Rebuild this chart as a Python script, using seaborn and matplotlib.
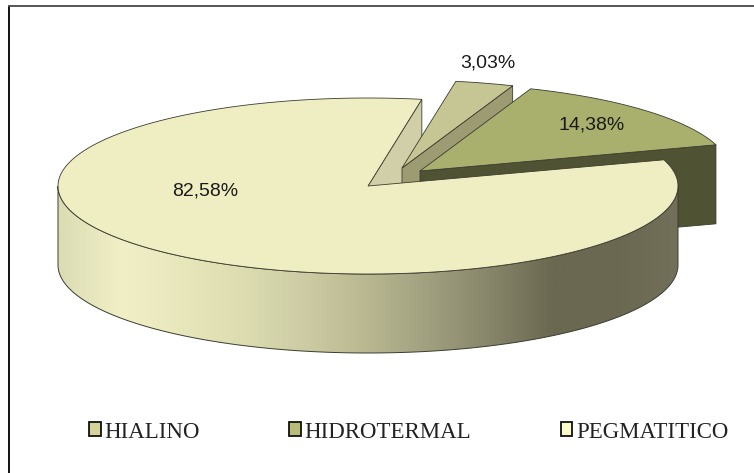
import numpy as np
import matplotlib
matplotlib.use("Agg")
import matplotlib.pyplot as plt
from matplotlib.path import Path
from matplotlib.patches import Polygon, PathPatch, Patch
import seaborn as sns

categories = ["HIALINO", "HIDROTERMAL", "PEGMATITICO"]
shares = [3.03, 14.38, 82.58]
labels = ["3,03%", "14,38%", "82,58%"]
top_colors = ["#c6c694", "#a9b06e", "#efeec2"]
wall_colors = ["#9c9b72", "#4f5233", "#d0cfa8"]
swatch_colors = ["#d3d39a", "#b7bd78", "#fbfbc8"]
explode = [(34, -18), (52, -15), (0, 0)]
label_pos = [(488, 63), (592, 125), (205, 191)]
grad_stops = ["#dcdcb4", "#f0efc6", "#e8e7bc", "#dcdcb0", "#cccba4", "#b8b790",
              "#a0a080", "#868469", "#6a6850", "#6a6850", "#72705a"]

CX, CY, RX, RY, DEPTH = 368, 186, 310, 88, 79
START = 80.0
EDGE = "#3c3c30"

sns.set_theme(style="white")
fig = plt.figure(figsize=(7.54, 4.73), dpi=100, facecolor="white")
ax = fig.add_axes([0, 0, 1, 1])
ax.axis("off")


def pt(theta, off=(0, 0), dz=0):
    t = np.radians(theta)
    return CX + off[0] + RX * np.cos(t), CY + off[1] - RY * np.sin(t) + dz


def sector(t0, t1, off):
    th = np.linspace(t0, t1, 200)
    xy = [pt(t, off) for t in th]
    return [(CX + off[0], CY + off[1])] + xy


# angular extents running clockwise from the start angle
fr = np.array(shares) / sum(shares) * 360
hi = (START - fr[0], START)
hd = (START - fr[0] - fr[1], START - fr[0])
pg = (START, START + fr[2])
spans = [hi, hd, pg]

# inner wall of the big slice, seen through the gap
off = explode[2]
a = (CX, CY)
b = pt(pg[0], off)
ax.add_patch(Polygon([a, b, (b[0], b[1] + DEPTH), (a[0], a[1] + DEPTH)],
                     fc=wall_colors[2], ec=EDGE, lw=0.6, zorder=1))

# exploded small slices: front radial wall, then top face
for i in (0, 1):
    off = explode[i]
    a = (CX + off[0], CY + off[1])
    b = pt(spans[i][0], off)
    ax.add_patch(Polygon([a, b, (b[0], b[1] + DEPTH), (a[0], a[1] + DEPTH)],
                         fc=wall_colors[i], ec=EDGE, lw=0.6, zorder=2 + i))
    ax.add_patch(Polygon(sector(*spans[i], off), fc=top_colors[i], ec=EDGE, lw=0.6, zorder=2 + i))

# outer wall of the big slice with horizontal gradient
th = np.linspace(180, 360, 300)
top = [pt(t) for t in th]
bot = [pt(t, dz=DEPTH) for t in th[::-1]]
verts = top + bot + [top[0]]
codes = [Path.MOVETO] + [Path.LINETO] * (len(verts) - 2) + [Path.CLOSEPOLY]
wall = PathPatch(Path(verts, codes), fc="none", ec=EDGE, lw=0.7, zorder=6)
ax.add_patch(wall)
ramp = np.array(sns.blend_palette(grad_stops, n_colors=512))[None, :, :]
im = ax.imshow(ramp, extent=(CX - RX, CX + RX, CY + RY + DEPTH, CY - RY), aspect="auto", zorder=5)
im.set_clip_path(wall)

# big slice top
ax.add_patch(Polygon(sector(*pg, explode[2]), fc=top_colors[2], ec=EDGE, lw=0.6, zorder=7))

for lab, (x, y) in zip(labels, label_pos):
    ax.text(x, y, lab, ha="center", va="center", fontsize=14, color="#1a1a1a",
            family="Liberation Sans", zorder=10)

# frame lines (left and top only)
ax.plot([9, 9], [473, 6], color="#111111", lw=1.4, zorder=0)
ax.plot([9, 754], [6, 6], color="#555555", lw=1.4, zorder=0)

ax.set_xlim(0, 754)
ax.set_ylim(473, 0)

handles = [Patch(fc=c, ec="#111111", lw=1.3) for c in swatch_colors]
ax.legend(handles, categories, ncol=3, frameon=False, loc="center left",
          bbox_to_anchor=(89, 432), bbox_transform=ax.transData,
          prop={"family": "Liberation Serif", "size": 16.5},
          handlelength=0.52, handleheight=0.55, handletextpad=0.15,
          columnspacing=3.9, borderpad=0, borderaxespad=0, labelcolor="#222222")

fig.savefig("out.png", dpi=100)
